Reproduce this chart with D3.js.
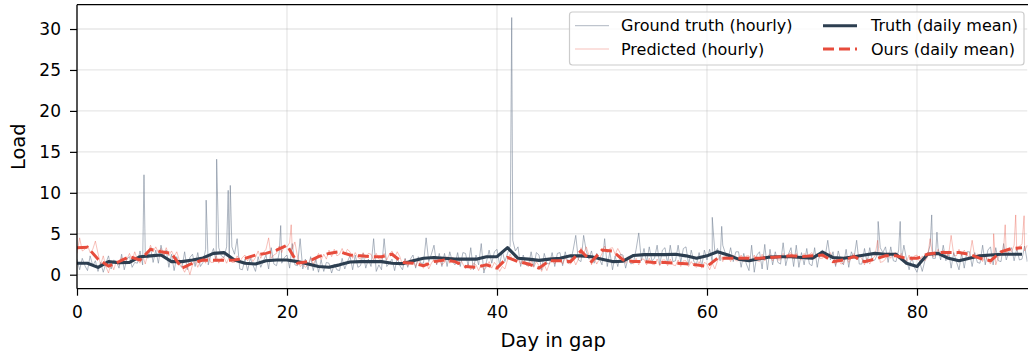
<!DOCTYPE html>
<html>
<head>
<meta charset="utf-8">
<script src="https://cdn.jsdelivr.net/npm/d3@7"></script>
<style>
  html, body { margin: 0; padding: 0; background: #fff; }
  svg { display: block; font-family: "DejaVu Sans", sans-serif; }
</style>
</head>
<body>
<svg id="chart" width="1028" height="360"></svg>
<script>
// Daily means, one value per day (day 0 .. 90)
const truthDaily = [
  1.4, 1.4, 0.9, 1.6, 1.45, 1.5, 2.2, 2.3, 2.4, 1.6,
  1.6, 1.8, 2.05, 2.6, 2.7, 1.8, 1.4, 1.3, 1.7, 1.8,
  1.8, 1.6, 1.3, 1.0, 0.9, 1.2, 1.55, 1.6, 1.6, 1.6,
  1.4, 1.35, 1.7, 2.0, 2.1, 2.0, 1.9, 1.9, 1.9, 2.2,
  2.2, 3.3, 2.0, 1.9, 1.75, 1.9, 2.0, 2.3, 2.3, 2.2,
  1.9, 1.6, 1.65, 2.35, 2.45, 2.45, 2.45, 2.5, 2.3, 2.0,
  2.3, 2.8, 2.4, 1.9, 1.7, 1.95, 2.15, 2.2, 2.2, 2.1,
  2.0, 2.75, 2.1, 2.0, 2.2, 2.4, 2.6, 2.5, 2.5, 1.4,
  1.0, 2.5, 2.6, 2.0, 1.7, 2.0, 2.3, 2.4, 2.5, 2.5,
  2.5
];
const oursDaily = [
  3.3, 3.35, 1.9, 1.05, 1.6, 2.2, 1.8, 3.1, 2.8, 2.6,
  0.8, 1.4, 1.8, 1.75, 1.75, 1.8, 2.0, 2.4, 2.6, 3.0,
  3.6, 1.4, 1.6, 2.2, 2.6, 2.8, 2.4, 2.3, 2.2, 2.2,
  2.5, 1.5, 1.4, 1.1, 1.6, 1.8, 1.6, 1.0, 0.9, 1.2,
  0.8, 2.1, 1.6, 1.3, 0.8, 1.7, 1.7, 1.6, 2.9, 1.6,
  3.0, 2.9, 1.8, 1.6, 1.6, 1.5, 1.5, 1.4, 1.35, 1.2,
  1.0, 2.0, 2.0, 2.0, 2.0, 2.0, 2.1, 2.2, 2.3, 2.2,
  2.3, 2.4, 1.6, 1.8, 2.2, 1.6, 1.9, 2.3, 2.3, 2.0,
  2.0, 2.5, 2.7, 2.7, 2.7, 2.5, 2.0, 1.7, 2.8, 3.2,
  3.3
];

// Sub-daily readings, four per day (00h, 06h, 12h, 18h)
const truthHourly = [
  [1.9,0.6,2.0,1.1],[0.5,2.3,1.1,1.7],[0.4,1.5,0.3,1.4],[2.3,0.7,1.8,1.6],[0.8,2.5,0.6,1.9],
  [2.2,0.9,1.5,1.4],[2.9,1.2,2.7,2.0],[3.3,1.5,3.0,1.4],[3.6,2.1,3.0,0.9],[2.5,0.5,2.2,1.2],
  [0.9,2.8,0.6,2.1],[2.5,1.0,2.7,1.0],[1.5,3.1,1.2,2.4],[3.2,1.6,3.3,2.3],[2.1,3.4,1.9,3.4],
  [2.5,4.4,0.7,0.6],[1.9,0.5,2.0,1.2],[0.4,2.2,0.9,1.7],[2.4,0.7,3.3,1.3],[1.1,2.6,1.4,2.1],
  [2.4,0.8,3.8,1.2],[1.1,4.4,0.7,1.9],[0.6,2.2,0.5,1.9],[0.3,1.8,0.4,1.5],[1.4,0.2,1.3,0.6],
  [0.5,2.0,0.7,1.6],[2.3,0.6,2.4,0.9],[1.1,2.6,0.8,1.9],[1.0,4.4,0.4,1.2],[0.6,4.4,1.0,1.4],
  [1.9,0.5,2.1,1.1],[0.6,2.0,0.9,1.9],[2.4,0.8,2.2,1.4],[1.4,4.5,1.6,2.5],[3.6,1.2,2.6,1.0],
  [2.6,1.0,2.8,1.6],[1.2,2.7,1.0,2.7],[2.6,1.1,3.3,0.6],[2.4,1.2,3.8,0.2],[1.6,3.0,1.4,2.8],
  [3.1,1.2,2.9,1.6],[2.6,3.5,4.2,2.9],[3.4,1.0,2.4,1.2],[1.1,2.8,1.0,2.7],[2.4,0.6,2.6,1.4],
  [1.3,2.7,1.0,2.6],[2.7,1.1,2.8,1.4],[1.6,3.0,4.8,1.8],[1.6,4.8,2.9,1.9],[2.9,1.4,2.6,1.9],
  [1.2,4.4,1.0,2.8],[0.6,2.3,1.0,2.5],[2.4,0.8,2.1,1.3],[1.5,3.1,5.1,1.7],[3.2,1.5,3.4,1.7],
  [2.0,3.6,1.2,3.0],[3.3,1.3,3.6,1.6],[1.7,3.6,1.5,3.2],[3.4,1.2,3.0,1.6],[1.3,2.7,1.0,3.0],
  [1.8,3.1,1.6,2.7],[3.2,1.7,3.6,2.6],[1.9,3.3,1.6,2.8],[2.8,0.9,2.6,1.3],[0.5,3.6,0.3,2.4],
  [2.8,0.7,3.7,0.6],[3.1,1.2,2.8,1.5],[1.3,3.9,1.1,2.5],[3.3,1.0,3.6,0.9],[2.7,1.2,3.2,1.3],
  [1.1,3.3,0.9,2.7],[3.0,2.2,4.2,1.8],[2.8,1.0,2.9,1.7],[1.2,3.1,0.9,2.8],[2.0,4.2,1.3,1.3],
  [3.2,1.4,3.3,1.7],[1.8,2.6,3.3,2.7],[3.4,1.5,3.4,1.7],[1.6,3.0,1.7,3.6],[1.9,0.6,2.2,0.9],
  [0.3,1.6,0.4,1.7],[2.4,3.6,2.0,2.0],[3.3,1.8,3.6,1.7],[2.9,0.8,2.7,1.6],[0.6,2.6,0.8,2.8],
  [2.8,1.0,2.7,1.5],[1.4,3.6,1.2,3.0],[3.4,1.2,3.3,1.7],[1.6,3.8,1.8,2.8],[3.3,1.7,3.2,1.8],
  [1.9,3.5,1.6,3.0]
];
const predHourly = [
  [2.6,4.5,2.9,3.1],[3.6,2.7,3.1,4.1],[2.6,1.2,2.3,1.0],[0.2,1.5,0.6,1.7],[1.2,2.1,1.4,1.9],
  [2.6,1.7,2.8,1.8],[1.4,2.4,1.3,2.6],[3.6,2.8,3.4,2.7],[3.2,2.4,3.3,2.3],[2.9,2.2,2.8,1.8],
  [0.9,0.3,1.1,0.0],[1.2,1.8,0.9,1.7],[2.1,1.4,2.4,1.5],[1.5,2.3,1.4,2.0],[2.1,1.4,2.2,1.5],
  [1.5,2.3,1.6,2.1],[2.4,1.7,2.3,1.6],[2.1,2.9,2.0,2.7],[3.1,4.5,2.0,2.4],[2.6,3.5,2.7,3.6],
  [3.4,3.9,3.1,4.0],[2.2,1.0,1.3,0.9],[1.2,2.0,1.3,1.9],[2.6,1.8,2.5,1.9],[3.0,2.2,3.1,2.3],
  [2.5,3.2,2.4,3.1],[2.8,2.0,2.7,2.1],[1.9,2.7,2.0,2.6],[2.5,1.8,2.6,1.9],[1.9,2.6,1.8,2.5],
  [2.9,2.1,2.8,2.2],[1.2,1.9,1.1,1.8],[1.7,1.0,1.8,1.1],[0.8,1.5,0.7,1.4],[1.9,1.3,2.0,1.2],
  [1.5,2.2,1.4,2.1],[1.9,1.2,2.0,1.3],[0.7,1.3,0.6,1.4],[1.2,0.5,1.3,0.6],[0.9,1.6,0.8,1.5],
  [1.1,0.4,1.0,0.7],[1.8,2.5,1.7,2.4],[1.9,1.3,2.0,1.2],[1.0,1.7,0.9,1.6],[1.1,0.4,1.2,0.5],
  [1.4,2.1,1.3,2.0],[2.0,1.3,2.1,1.4],[1.3,2.0,1.2,1.9],[3.3,2.5,3.4,2.4],[1.2,2.0,1.3,1.9],
  [2.6,3.5,2.7,3.2],[3.3,2.5,3.2,2.6],[2.1,1.4,2.2,1.5],[1.3,2.0,1.2,1.9],[1.9,1.2,2.0,1.3],
  [1.2,1.9,1.1,1.8],[1.8,1.1,1.9,1.2],[1.1,1.8,1.0,1.7],[1.7,1.0,1.6,1.1],[0.9,1.6,0.8,1.5],
  [1.3,0.6,1.4,0.7],[1.7,2.4,1.6,2.3],[2.3,1.6,2.4,1.7],[1.7,2.4,1.6,2.3],[2.3,1.6,2.4,1.7],
  [1.6,2.5,1.7,2.2],[2.5,1.7,2.4,1.8],[1.8,2.6,1.9,2.5],[2.7,1.9,2.6,2.0],[1.8,2.6,1.9,2.5],
  [2.7,1.9,2.6,2.0],[2.0,2.8,2.1,2.7],[1.9,1.2,2.0,1.3],[1.4,2.2,1.5,2.1],[2.6,1.8,2.5,1.9],
  [1.2,2.0,1.3,1.9],[2.3,4.2,1.5,1.6],[1.9,2.7,2.0,2.6],[2.7,1.9,2.6,2.0],[1.6,2.4,1.7,2.3],
  [2.4,1.6,2.3,1.7],[2.1,4.4,2.2,2.3],[3.1,2.3,3.0,2.4],[2.3,4.8,2.4,2.3],[3.1,2.3,3.0,2.4],
  [2.1,4.2,2.2,2.5],[2.4,1.6,2.3,1.7],[1.3,2.1,1.2,2.2],[2.4,3.2,2.5,3.1],[2.8,3.6,2.9,3.5],
  [3.7,2.9,3.6,3.0]
];

// Isolated hourly peaks: [day, load]
const truthPeaks = [
  [6.38, 12.2], [12.3, 9.1], [13.3, 14.1], [14.4, 10.3], [14.6, 10.9],
  [19.4, 6.0], [41.4, 31.4], [60.5, 7.0], [61.4, 5.9], [76.3, 6.5],
  [78.4, 6.5], [81.4, 7.3], [81.9, 5.2]
];
const predPeaks = [
  [20.4, 6.1], [87.3, 5.0], [88.4, 6.1], [89.4, 7.3], [90.2, 7.2]
];

const xTicks = [0, 20, 40, 60, 80];
const yTicks = [0, 5, 10, 15, 20, 25, 30];

const W = 1028, H = 360;
const plot = { left: 77, top: 4.7, right: 1027.25, bottom: 288.7 };

const svg = d3.select("#chart");

const x = d3.scaleLinear().domain([0, 90.5]).range([plot.left, plot.right]);
const y = d3.scaleLinear().domain([-1.71, 32.97]).range([plot.bottom, plot.top]);

// flatten per-day readings and merge isolated peaks in time order
function hourlySeries(rows, peaks) {
  const pts = [];
  rows.forEach((r, i) => r.forEach((v, j) => pts.push({ d: i + j / r.length, v })));
  peaks.forEach(([d, v]) => pts.push({ d, v }));
  return pts.sort((a, b) => a.d - b.d);
}
const dailySeries = arr => arr.map((v, i) => ({ d: i, v }));

svg.append("defs").append("clipPath").attr("id", "clip")
  .append("rect")
  .attr("x", plot.left).attr("y", plot.top)
  .attr("width", plot.right - plot.left).attr("height", plot.bottom - plot.top);

// grid
const grid = svg.append("g").attr("stroke", "#b0b0b0").attr("stroke-opacity", 0.3).attr("stroke-width", 1.3);
grid.selectAll(".gx").data(xTicks).join("line")
  .attr("x1", d => x(d)).attr("x2", d => x(d))
  .attr("y1", plot.top).attr("y2", plot.bottom);
grid.selectAll(".gy").data(yTicks).join("line")
  .attr("x1", plot.left).attr("x2", plot.right)
  .attr("y1", d => y(d)).attr("y2", d => y(d));

const line = d3.line().x(p => x(p.d)).y(p => y(p.v));
const body = svg.append("g").attr("clip-path", "url(#clip)");

body.append("path")
  .datum(hourlySeries(truthHourly, truthPeaks))
  .attr("d", line).attr("fill", "none")
  .attr("stroke", "#7a8799").attr("stroke-opacity", 0.6).attr("stroke-width", 1);

body.append("path")
  .datum(hourlySeries(predHourly, predPeaks))
  .attr("d", line).attr("fill", "none")
  .attr("stroke", "#e74c3c").attr("stroke-opacity", 0.35).attr("stroke-width", 1);

body.append("path")
  .datum(dailySeries(truthDaily))
  .attr("d", line).attr("fill", "none")
  .attr("stroke", "#2c3e50").attr("stroke-width", 3.1).attr("stroke-linejoin", "round");

body.append("path")
  .datum(dailySeries(oursDaily))
  .attr("d", line).attr("fill", "none")
  .attr("stroke", "#e74c3c").attr("stroke-width", 3).attr("stroke-dasharray", "11,5");

// axes
const xAxis = d3.axisBottom(x).tickValues(xTicks).tickSize(7).tickPadding(10).tickFormat(d3.format("d"));
const yAxis = d3.axisLeft(y).tickValues(yTicks).tickSize(7).tickPadding(9).tickFormat(d3.format("d"));

const gx = svg.append("g").attr("transform", `translate(0,${plot.bottom})`).call(xAxis);
const gy = svg.append("g").attr("transform", `translate(${plot.left},0)`).call(yAxis);
[gx, gy].forEach(g => {
  g.select(".domain").remove();
  g.selectAll(".tick line").attr("stroke", "#000").attr("stroke-width", 1.2);
  g.selectAll(".tick text").attr("fill", "#000").attr("font-size", 17)
    .attr("font-family", "DejaVu Sans, sans-serif");
});

// spines
const sp = svg.append("g").attr("stroke", "#000").attr("stroke-width", 1.3);
sp.append("line").attr("x1", plot.left).attr("x2", plot.left).attr("y1", plot.top).attr("y2", plot.bottom);
sp.append("line").attr("x1", plot.left).attr("x2", W).attr("y1", plot.bottom).attr("y2", plot.bottom);
sp.append("line").attr("x1", plot.left).attr("x2", W).attr("y1", plot.top).attr("y2", plot.top);

// axis titles
svg.append("text").attr("x", (plot.left + plot.right) / 2 + 1).attr("y", 347)
  .attr("text-anchor", "middle").attr("font-size", 19.5).text("Day in gap");
svg.append("text").attr("transform", `translate(25,${(plot.top + plot.bottom) / 2}) rotate(-90)`)
  .attr("text-anchor", "middle").attr("font-size", 19.5).text("Load");

// legend
const legendItems = [
  { label: "Ground truth (hourly)", color: "#7a8799", op: 0.6, w: 1, dash: null, col: 0, row: 0 },
  { label: "Predicted (hourly)", color: "#e74c3c", op: 0.35, w: 1, dash: null, col: 0, row: 1 },
  { label: "Truth (daily mean)", color: "#2c3e50", op: 1, w: 3.1, dash: null, col: 1, row: 0 },
  { label: "Ours (daily mean)", color: "#e74c3c", op: 1, w: 3, dash: "11,5", col: 1, row: 1 }
];
const lg = svg.append("g");
lg.append("rect").attr("x", 569.5).attr("y", 12).attr("width", 454.5).attr("height", 53)
  .attr("rx", 3).attr("fill", "#fff").attr("fill-opacity", 0.8)
  .attr("stroke", "#cccccc").attr("stroke-width", 1.2);
const colX = [575, 823], textX = [621, 871], rowY = [25.7, 49];
const li = lg.selectAll(".li").data(legendItems).join("g");
li.append("line")
  .attr("x1", d => colX[d.col]).attr("x2", d => colX[d.col] + 34)
  .attr("y1", d => rowY[d.row]).attr("y2", d => rowY[d.row])
  .attr("stroke", d => d.color).attr("stroke-opacity", d => d.op)
  .attr("stroke-width", d => d.w).attr("stroke-dasharray", d => d.dash);
li.append("text")
  .attr("x", d => textX[d.col]).attr("y", d => rowY[d.row] + 5.7)
  .attr("font-size", 16).attr("fill", "#000").text(d => d.label);
</script>
</body>
</html>
